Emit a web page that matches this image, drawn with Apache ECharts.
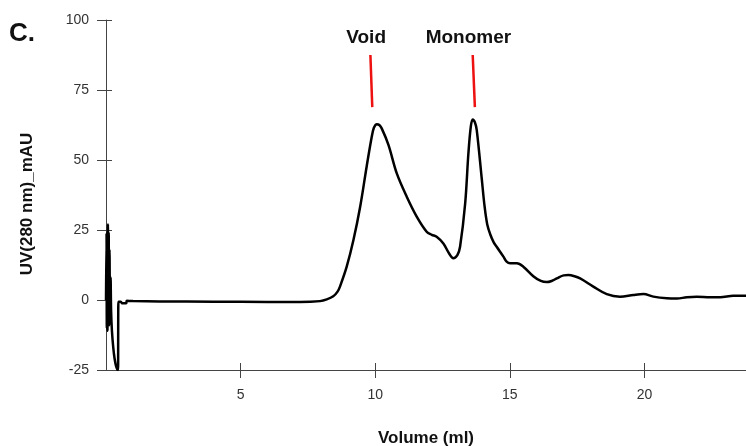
<!DOCTYPE html>
<html>
<head>
<meta charset="utf-8">
<script src="https://cdn.jsdelivr.net/npm/echarts@6/dist/echarts.min.js"></script>
<style>
html,body{margin:0;padding:0;background:#fff;}
#chart{width:746px;height:446px;}
</style>
</head>
<body>
<div id="chart"></div>
<script>
// Elution volume (ml)
var volume = [
  0.00, 0.02, 0.03, 0.045, 0.055, 0.07, 0.085, 0.10, 0.115, 0.13, 0.15, 0.17, 0.19,
  0.22, 0.27, 0.32, 0.37, 0.42, 0.45, 0.46, 0.46, 0.55, 0.60, 0.75, 0.77, 1.0, 2.0,
  4.0, 6.0, 7.2, 7.95, 8.2, 8.44, 8.6, 8.69, 8.94, 9.19, 9.44, 9.68, 9.87, 9.95,
  10.06, 10.15, 10.24, 10.49, 10.80, 11.17, 11.54, 11.91, 12.10, 12.28, 12.53, 12.75,
  12.90, 13.05, 13.15, 13.34, 13.46, 13.55, 13.62, 13.70, 13.77, 13.96, 14.06, 14.16,
  14.28, 14.40, 14.51, 14.76, 14.88, 15.01, 15.26, 15.50, 15.87, 16.15, 16.37, 16.55,
  16.74, 17.00, 17.17, 17.40, 17.61, 18.10, 18.60, 19.09, 19.59, 19.96, 20.33, 20.83,
  21.20, 21.57, 21.94, 22.44, 22.81, 23.30, 23.80
];
// UV absorbance at 280 nm (mAU)
var uv = [
  0, 24, -10, 22, -11, 27, -8, 24, -9, 18, -6, 8, -4,
  -11, -17, -21, -23.5, -24.8, -25, -25, -0.6, -0.6, -1.2, -1.2, -0.3, -0.4, -0.5,
  -0.6, -0.7, -0.7, -0.4, 0.2, 1.3, 3.0, 4.8, 11.9, 21.4, 33.3, 47.6, 58.3, 61.5,
  62.8, 62.5, 61.3, 55.4, 45.2, 36.9, 29.8, 24.4, 23.3, 22.6, 20.2, 16.5,
  14.9, 16.0, 19.0, 34.5, 52.4, 62.0, 64.5, 63.5, 60.7, 42.9, 33.5, 27.0,
  23.2, 20.6, 19.0, 15.5, 13.7, 13.1, 13.1, 11.9, 8.5, 6.8, 6.4, 6.8,
  7.7, 8.8, 8.9, 8.5, 7.7, 4.8, 2.1, 1.2, 1.8, 2.1, 1.2, 0.6,
  0.5, 1.0, 1.2, 1.0, 1.0, 1.5, 1.5
];
var xTicks = [5, 10, 15, 20];
var yTicks = [-25, 0, 25, 50, 75, 100];
// Peak annotation markers
var peakLabels = ['Void', 'Monomer'];
var peakX0 = [9.89, 13.70];
var peakY0 = [68.9, 68.9];
var peakX1 = [9.82, 13.62];
var peakY1 = [87.5, 87.5];

var pts = volume.map(function (v, i) { return [v, uv[i]]; });
var marks = peakLabels.map(function (n, i) {
  return [{ name: n, coord: [peakX0[i], peakY0[i]] }, { coord: [peakX1[i], peakY1[i]] }];
});

var axisColor = '#444';
var labelStyle = { color: '#333', fontSize: 14, fontFamily: 'Liberation Sans' };

var chart = echarts.init(document.getElementById('chart'), null, { renderer: 'canvas' });
chart.setOption({
  animation: false,
  backgroundColor: '#fff',
  grid: { left: 106, right: 0, top: 20, bottom: 76, containLabel: false, outerBoundsMode: 'none' },
  xAxis: [{
    type: 'value', min: 0, max: 23.77, interval: 5, position: 'bottom',
    axisLine: { onZero: false, lineStyle: { color: axisColor, width: 1 } },
    axisTick: { show: true, inside: false, length: 8, customValues: xTicks, lineStyle: { color: axisColor } },
    axisLabel: Object.assign({ margin: 18, customValues: xTicks }, labelStyle),
    splitLine: { show: false },
    name: 'Volume (ml)', nameLocation: 'middle', nameGap: 60,
    nameTextStyle: { fontSize: 17, fontWeight: 'bold', color: '#111', fontFamily: 'Liberation Sans' }
  }, {
    type: 'value', min: 0, max: 23.77, interval: 5, position: 'bottom', gridIndex: 0,
    axisLine: { show: false, onZero: false },
    axisTick: { show: true, inside: true, length: 7, customValues: xTicks, lineStyle: { color: axisColor } },
    axisLabel: { show: false }, splitLine: { show: false }
  }],
  yAxis: [{
    type: 'value', min: -25, max: 100, interval: 25, position: 'left',
    axisLine: { show: true, onZero: false, lineStyle: { color: axisColor, width: 1 } },
    axisTick: { show: true, inside: false, length: 9, customValues: yTicks, lineStyle: { color: axisColor } },
    axisLabel: Object.assign({ margin: 17, customValues: yTicks }, labelStyle),
    splitLine: { show: false }
  }, {
    type: 'value', min: -25, max: 100, interval: 25, position: 'left', gridIndex: 0,
    axisLine: { show: false, onZero: false },
    axisTick: { show: true, inside: true, length: 6, customValues: yTicks, lineStyle: { color: axisColor } },
    axisLabel: { show: false }, splitLine: { show: false }
  }],
  graphic: [{
    type: 'text', left: 9, top: 21,
    style: { text: 'C.', font: 'bold 26px "Liberation Sans"', fill: '#111' }
  }, {
    type: 'text', x: 27, y: 204, rotation: Math.PI / 2,
    style: { text: 'UV(280 nm)_mAU', font: 'bold 17px "Liberation Sans"', fill: '#111',
      textAlign: 'center', textVerticalAlign: 'middle' }
  }],
  series: [{
    type: 'line', xAxisIndex: 0, yAxisIndex: 0,
    data: pts, showSymbol: false, smooth: 0.35,
    lineStyle: { color: '#000', width: 2.5 }, clip: true,
    markLine: {
      silent: true, symbol: ['none', 'none'],
      lineStyle: { color: '#ee1111', width: 2.5, type: 'solid' },
      label: { show: true, position: 'end', distance: 8, offset: [-4, 0], formatter: '{b}',
        fontSize: 19, fontWeight: 'bold', color: '#111', fontFamily: 'Liberation Sans' },
      data: marks
    }
  }]
});
</script>
</body>
</html>
